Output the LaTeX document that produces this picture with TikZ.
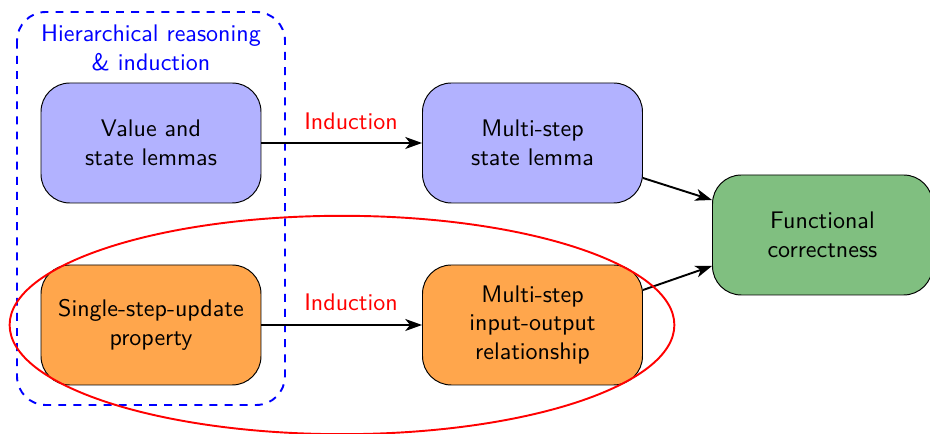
\documentclass[tikz,border=0pt]{standalone}
\usetikzlibrary{arrows.meta,shapes.geometric}
\begin{document}
\begin{tikzpicture}[x=0.4167pt,y=-0.4167pt,font=\sffamily,
  box/.style={draw=black,rounded corners=12pt,minimum width=90.8pt,minimum height=50pt,align=center,text width=85pt},
  bluebox/.style={box,fill=blue!30},
  orangebox/.style={box,fill=orange!70},
  greenbox/.style={box,fill=green!50!black!50},
  conn/.style={-{Stealth[length=7pt,width=5pt,inset=2pt]},thick},
  lab/.style={text=red}]
\useasboundingbox (0,0) rectangle (930,434);
\node[bluebox] (A) at (151,143) {Value and\\state lemmas};
\node[bluebox] (B) at (532.5,143) {Multi-step\\state lemma};
\node[orangebox] (C) at (151,325) {Single-step-update\\property};
\node[orangebox] (D) at (532.5,325) {Multi-step\\input-output\\relationship};
\node[greenbox] (E) at (822.5,235) {Functional\\correctness};
\draw[blue,thick,dash pattern=on 3.3pt off 3pt,rounded corners=12pt] (17,12) rectangle (285,405);
\node[text=blue,align=center] (T) at (151,48) {Hierarchical reasoning\\\& induction};
\draw[conn] (A) -- (B);
\draw[conn] (C) -- (D);
\node[lab] (L1) at (351,121) {Induction};
\node[lab] (L2) at (351,302) {Induction};
\draw[conn] (B.east |- 0,178) -- (E.west |- 0,200);
\draw[conn] (D.east |- 0,290) -- (E.west |- 0,266);
\node[draw=red,thick,ellipse,minimum width=277pt,minimum height=91pt,inner sep=0pt] (O) at (342,325) {};
\end{tikzpicture}
\end{document}
